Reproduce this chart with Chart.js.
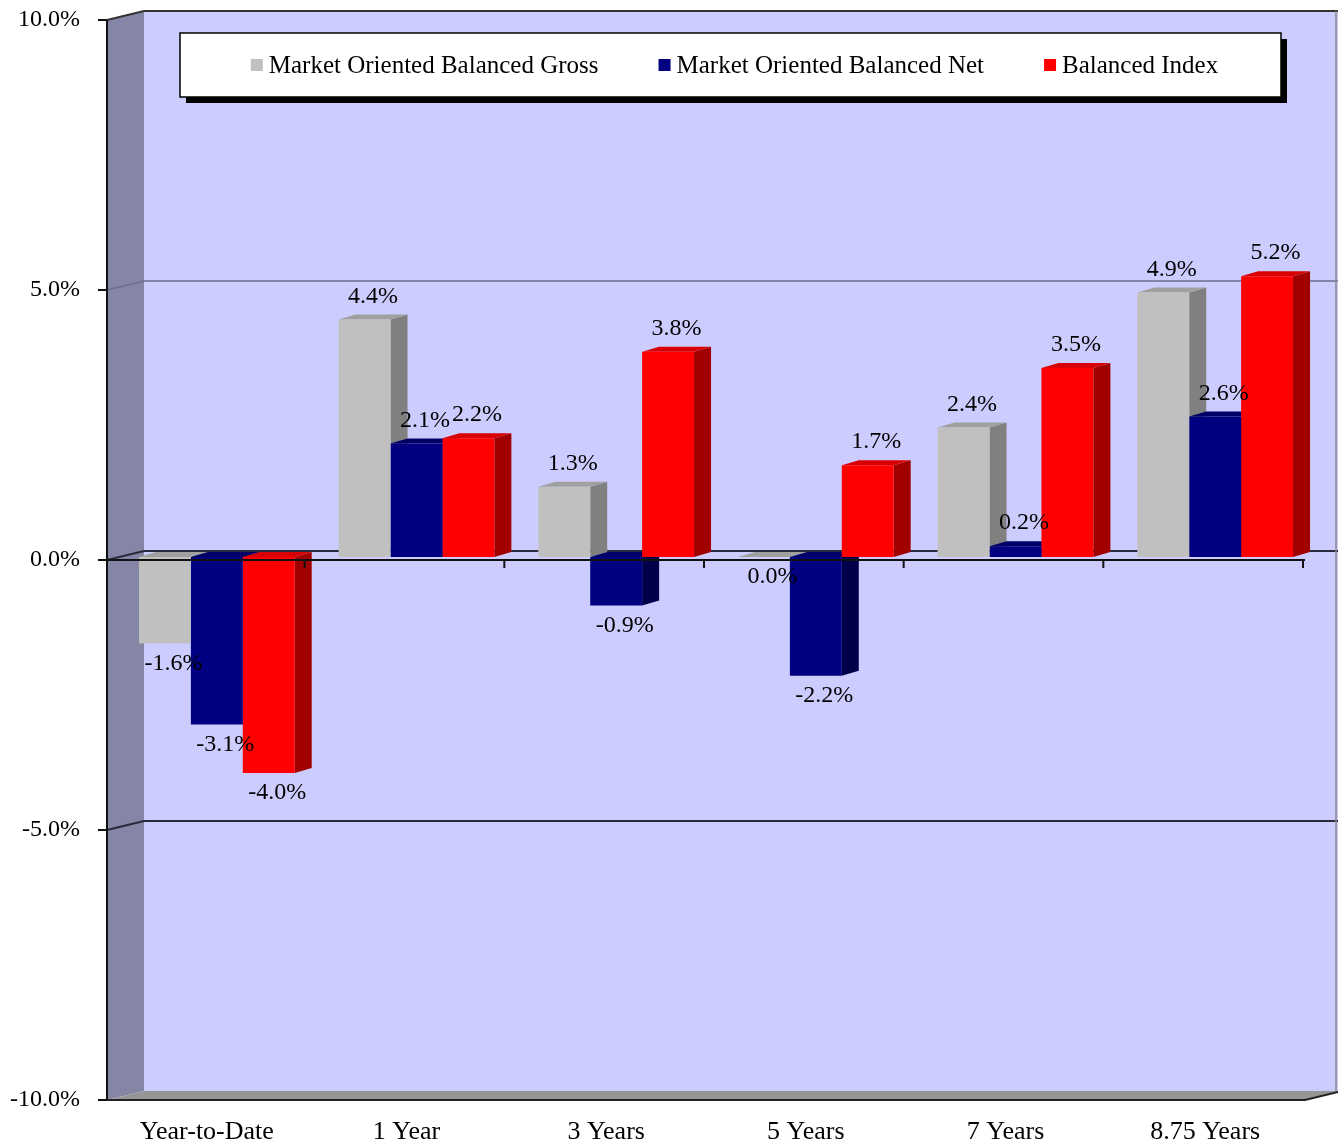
<!DOCTYPE html>
<html>
<head>
<meta charset="utf-8">
<script src="https://cdn.jsdelivr.net/npm/chart.js@4.4.1/dist/chart.umd.min.js"></script>
<style>
  html, body { margin: 0; padding: 0; background: #fff; }
  #wrap { width: 1338px; height: 1146px; position: relative; }
</style>
</head>
<body>
<div id="wrap"><canvas id="returns"></canvas></div>
<script>
const periods = ["Year-to-Date", "1 Year", "3 Years", "5 Years", "7 Years", "8.75 Years"];
const grossReturns = [-1.6, 4.4, 1.3, 0.0, 2.4, 4.9];
const netReturns = [-3.1, 2.1, -0.9, -2.2, 0.2, 2.6];
const indexReturns = [-4.0, 2.2, 3.8, 1.7, 3.5, 5.2];
const seriesNames = ["Market Oriented Balanced Gross", "Market Oriented Balanced Net", "Balanced Index"];

const FONT = "'Liberation Serif', 'Times New Roman', serif";

// depth of each bar, and where the front edge / back wall sit relative to the bar plane
const BAR_DX = 17, BAR_DY = -5;
const FRONT_DX = -10, FRONT_DY = 3;
const BACK_DX = 27, BACK_DY = -6;

const threeD = {
    id: "threeD",
    beforeDraw(chart) {
        const { ctx, chartArea: a, scales: { y } } = chart;
        const W = chart.width;
        const top = y.getPixelForValue(10), bottom = y.getPixelForValue(-10);
        ctx.save();

        // back wall
        ctx.fillStyle = "#ccccff";
        ctx.fillRect(a.left + BACK_DX, top + BACK_DY, W - a.left - BACK_DX, bottom - top);

        // left side wall
        ctx.fillStyle = "#8585a6";
        ctx.beginPath();
        ctx.moveTo(a.left + FRONT_DX, top + FRONT_DY);
        ctx.lineTo(a.left + BACK_DX, top + BACK_DY);
        ctx.lineTo(a.left + BACK_DX, bottom + BACK_DY);
        ctx.lineTo(a.left + FRONT_DX, bottom + FRONT_DY);
        ctx.closePath();
        ctx.fill();

        // floor
        ctx.fillStyle = "#969696";
        ctx.beginPath();
        ctx.moveTo(a.left + FRONT_DX, bottom + FRONT_DY);
        ctx.lineTo(a.left + BACK_DX, bottom + BACK_DY);
        ctx.lineTo(a.right + BACK_DX, bottom + BACK_DY);
        ctx.lineTo(a.right + FRONT_DX, bottom + FRONT_DY);
        ctx.closePath();
        ctx.fill();
        ctx.strokeStyle = "#222";
        ctx.lineWidth = 2;
        ctx.beginPath();
        ctx.moveTo(a.left + FRONT_DX, bottom + FRONT_DY);
        ctx.lineTo(a.right + FRONT_DX, bottom + FRONT_DY);
        ctx.lineTo(a.right + BACK_DX, bottom + BACK_DY);
        ctx.stroke();

        // gridlines across the side wall and back wall
        [5, 0, -5].forEach((v) => {
            const py = y.getPixelForValue(v);
            ctx.strokeStyle = v > 0 ? "#6e6e90" : "#2a2a3a";
            ctx.lineWidth = v > 0 ? 1.5 : 2;
            ctx.beginPath();
            ctx.moveTo(a.left + FRONT_DX, py + FRONT_DY);
            ctx.lineTo(a.left + BACK_DX, py + BACK_DY);
            ctx.lineTo(W, py + BACK_DY);
            ctx.stroke();
        });

        // top edges of the walls
        ctx.strokeStyle = "#333";
        ctx.lineWidth = 2;
        ctx.beginPath();
        ctx.moveTo(a.left + FRONT_DX, top + FRONT_DY);
        ctx.lineTo(a.left + BACK_DX, top + BACK_DY);
        ctx.lineTo(W, top + BACK_DY);
        ctx.stroke();
        ctx.strokeStyle = "#888";
        ctx.lineWidth = 1.5;
        ctx.beginPath();
        ctx.moveTo(W - 2, top + BACK_DY);
        ctx.lineTo(W - 2, bottom + BACK_DY);
        ctx.stroke();

        // value axis on the front edge, with its tick marks
        ctx.strokeStyle = "#111";
        ctx.lineWidth = 2;
        ctx.beginPath();
        ctx.moveTo(a.left + FRONT_DX, top + FRONT_DY);
        ctx.lineTo(a.left + FRONT_DX, bottom + FRONT_DY);
        y.ticks.forEach((t) => {
            const py = y.getPixelForValue(t.value) + FRONT_DY;
            ctx.moveTo(a.left + FRONT_DX - 9, py);
            ctx.lineTo(a.left + FRONT_DX, py);
        });
        ctx.stroke();
        ctx.restore();
    },
    beforeDatasetsDraw(chart) {
        // side and top faces, left to right, under all the front faces
        const { ctx } = chart;
        ctx.save();
        chart.data.datasets.forEach((ds, di) => {
            chart.getDatasetMeta(di).data.forEach((bar) => {
                const x0 = bar.x - bar.width / 2, x1 = bar.x + bar.width / 2;
                const hi = Math.min(bar.y, bar.base), lo = Math.max(bar.y, bar.base);
                ctx.fillStyle = ds.sideColor;
                ctx.beginPath();
                ctx.moveTo(x1, hi);
                ctx.lineTo(x1 + BAR_DX, hi + BAR_DY);
                ctx.lineTo(x1 + BAR_DX, lo + BAR_DY);
                ctx.lineTo(x1, lo);
                ctx.closePath();
                ctx.fill();
                ctx.fillStyle = ds.topColor;
                ctx.beginPath();
                ctx.moveTo(x0, hi);
                ctx.lineTo(x0 + BAR_DX, hi + BAR_DY);
                ctx.lineTo(x1 + BAR_DX, hi + BAR_DY);
                ctx.lineTo(x1, hi);
                ctx.closePath();
                ctx.fill();
            });
        });
        ctx.restore();
    },
    afterDatasetsDraw(chart) {
        const { ctx, chartArea: a, scales: { y } } = chart;
        const y0 = y.getPixelForValue(0) + FRONT_DY;
        ctx.save();

        // category axis along the zero line at the front
        ctx.strokeStyle = "#111";
        ctx.lineWidth = 2;
        ctx.beginPath();
        ctx.moveTo(a.left + FRONT_DX - 9, y0);
        ctx.lineTo(a.right + FRONT_DX, y0);
        const catW = (a.right - a.left) / periods.length;
        for (let i = 1; i <= periods.length; i++) {
            const px = a.left + FRONT_DX + i * catW - 2;
            ctx.moveTo(px, y0);
            ctx.lineTo(px, y0 + 8);
        }
        ctx.stroke();

        // value labels
        ctx.fillStyle = "#000";
        ctx.font = "24px " + FONT;
        ctx.textAlign = "center";
        ctx.textBaseline = "middle";
        chart.data.datasets.forEach((ds, di) => {
            chart.getDatasetMeta(di).data.forEach((bar, i) => {
                const v = ds.data[i];
                const ly = v > 0 ? bar.y - 23 : bar.y + 20;
                ctx.fillText(v.toFixed(1) + "%", bar.x + BAR_DX / 2, ly);
            });
        });

        // legend box with drop shadow
        const bx = a.left + 63, by = a.top + 16, bw = 1101, bh = 64;
        ctx.fillStyle = "#000";
        ctx.fillRect(bx + 6, by + 6, bw, bh);
        ctx.fillStyle = "#fff";
        ctx.fillRect(bx, by, bw, bh);
        ctx.strokeStyle = "#000";
        ctx.lineWidth = 1.5;
        ctx.strokeRect(bx, by, bw, bh);

        ctx.font = "25px " + FONT;
        ctx.textAlign = "left";
        const box = 12, gap = 6, itemGap = 60;
        const widths = chart.data.datasets.map((ds) => ctx.measureText(ds.label).width);
        const total = widths.reduce((s, w) => s + box + gap + w, 0) + itemGap * (widths.length - 1);
        let lx = bx + (bw - total) / 2 + 4;
        const ly = by + bh / 2 + 1;
        chart.data.datasets.forEach((ds, di) => {
            ctx.fillStyle = ds.backgroundColor;
            ctx.fillRect(lx, ly - box / 2 - 1, box, box);
            ctx.fillStyle = "#000";
            ctx.fillText(ds.label, lx + box + gap, ly);
            lx += box + gap + widths[di] + itemGap;
        });
        ctx.restore();
    },
};

new Chart(document.getElementById("returns"), {
    type: "bar",
    data: {
        labels: periods,
        datasets: [
            { label: seriesNames[0], data: grossReturns, backgroundColor: "#c0c0c0", sideColor: "#808080", topColor: "#a0a0a0" },
            { label: seriesNames[1], data: netReturns, backgroundColor: "#000080", sideColor: "#00004a", topColor: "#000066" },
            { label: seriesNames[2], data: indexReturns, backgroundColor: "#ff0000", sideColor: "#a00000", topColor: "#d80000" },
        ],
    },
    options: {
        responsive: true,
        maintainAspectRatio: false,
        animation: false,
        layout: { padding: { top: 17, right: 23, bottom: 0, left: 0 } },
        datasets: { bar: { categoryPercentage: 0.78, barPercentage: 1.0, borderWidth: 0 } },
        plugins: {
            legend: { display: false },
            tooltip: { enabled: false },
        },
        scales: {
            x: {
                grid: { display: false, drawTicks: false },
                border: { display: false },
                ticks: {
                    color: "#000",
                    font: { family: FONT, size: 26 },
                    padding: 20,
                    labelOffset: FRONT_DX,
                    maxRotation: 0,
                    autoSkip: false,
                },
                afterFit: (s) => { s.height = 49; },
            },
            y: {
                min: -10,
                max: 10,
                grid: { display: false, drawTicks: false },
                border: { display: false },
                ticks: {
                    stepSize: 5,
                    color: "#000",
                    font: { family: FONT, size: 24 },
                    padding: 37,
                    labelOffset: FRONT_DY,
                    callback: (v) => v.toFixed(1) + "%",
                },
                afterFit: (s) => {
                    s.width = 117;
                    // labels fit inside the layout padding already
                    s.paddingTop = 0;
                    s.paddingBottom = 0;
                },
            },
        },
    },
    plugins: [threeD],
});
</script>
</body>
</html>
